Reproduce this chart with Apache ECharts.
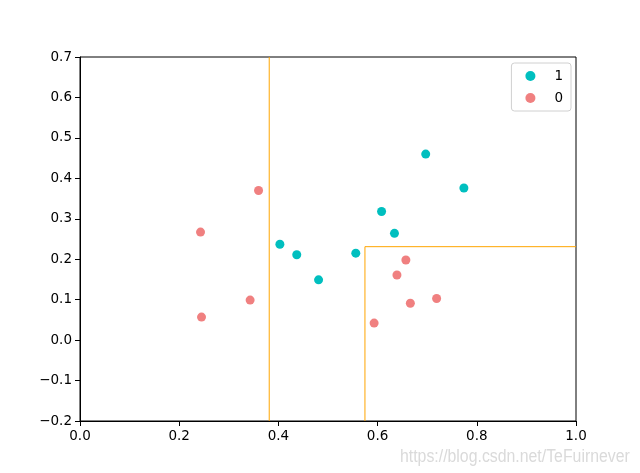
<!DOCTYPE html>
<html><head><meta charset="utf-8">
<script src="https://cdn.jsdelivr.net/npm/echarts@6/dist/echarts.min.js"></script>
<style>html,body{margin:0;padding:0;background:#fff}#c{width:640px;height:473px}</style>
</head><body><div id="c"></div>
<script>
// Class 1 (good) points: [density, sugar]
const good = [[0.697,0.460],[0.774,0.376],[0.634,0.264],[0.608,0.318],[0.556,0.215],[0.403,0.237],[0.481,0.149],[0.437,0.211]];
// Class 0 (bad) points
const bad = [[0.666,0.091],[0.243,0.267],[0.245,0.057],[0.343,0.099],[0.639,0.161],[0.657,0.198],[0.360,0.370],[0.593,0.042],[0.719,0.103]];
// Decision boundary segments
const split1 = [[0.3815,-0.2],[0.3815,0.7]];
const split2 = [[0.5745,-0.2],[0.5745,0.231],[1.0,0.231]];
const labels = ['1','0'];

const font = 'DejaVu Sans';
const fmt = v => { const s = Math.abs(v).toFixed(1); return (v < -1e-9 ? '\u2212' : '') + s; };
const chart = echarts.init(document.getElementById('c'));
chart.setOption({
  animation: false,
  grid: {left: 80, right: 64, top: 57, bottom: 52, show: true, borderColor: '#000', borderWidth: 1, backgroundColor: 'transparent'},
  xAxis: {type: 'value', min: 0, max: 1, interval: 0.2,
    axisLine: {show: true, onZero: false, lineStyle: {color: '#000'}},
    axisTick: {show: true, length: 5, lineStyle: {color: '#000'}},
    axisLabel: {color: '#000', fontFamily: font, fontSize: 13.5, margin: 8, formatter: fmt},
    splitLine: {show: false}},
  yAxis: {type: 'value', min: -0.2, max: 0.7, interval: 0.1,
    axisLine: {show: true, onZero: false, lineStyle: {color: '#000'}},
    axisTick: {show: true, length: 5, lineStyle: {color: '#000'}},
    axisLabel: {color: '#000', fontFamily: font, fontSize: 13.5, margin: 8, formatter: fmt},
    splitLine: {show: false}},
  legend: {right: 69, top: 63, orient: 'vertical', itemGap: 8, itemWidth: 10, itemHeight: 10,
    data: [{name: labels[0], icon: 'circle'}, {name: labels[1], icon: 'circle'}],
    borderColor: '#d0d0d0', borderWidth: 1, borderRadius: 3, padding: [6, 8, 6, 14],
    backgroundColor: '#fff',
    textStyle: {fontFamily: font, fontSize: 13.5, color: '#000', padding: [0, 0, 0, 14]}},
  graphic: [{type: 'text', x: 400, y: 448, scaleX: 0.88, style: {x: 0, y: 0, text: 'https://blog.csdn.net/TeFuirnever', fill: '#dadada', font: '18px "Liberation Sans", sans-serif'}}],
  series: [
    {type: 'line', data: split1, showSymbol: false, lineStyle: {color: '#FFA500', width: 1}, silent: true, z: 1},
    {type: 'line', data: split2, showSymbol: false, lineStyle: {color: '#FFA500', width: 1}, silent: true, z: 1},
    {name: labels[0], type: 'scatter', data: good, symbolSize: 9, itemStyle: {color: '#00BFBF', opacity: 1}, z: 3},
    {name: labels[1], type: 'scatter', data: bad, symbolSize: 9, itemStyle: {color: '#F08080', opacity: 1}, z: 3}
  ]
});
</script></body></html>
